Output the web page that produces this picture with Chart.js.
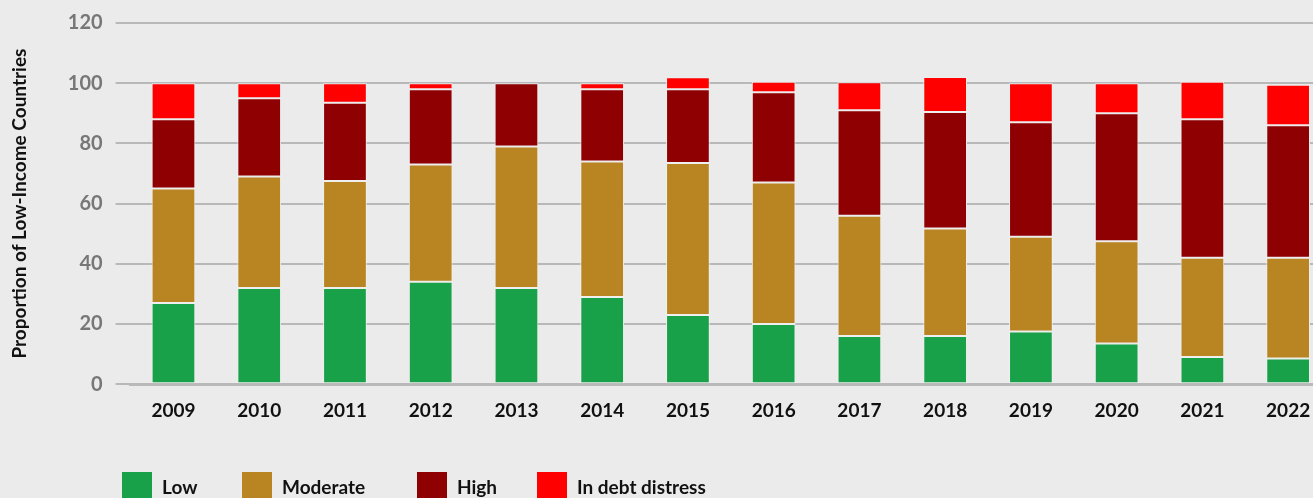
<!DOCTYPE html>
<html>
<head>
<meta charset="utf-8">
<script src="https://cdn.jsdelivr.net/npm/chart.js@4.4.1/dist/chart.umd.min.js"></script>
<style>
  html, body {
    margin: 0;
    padding: 0;
    background: #ebebeb;
    width: 1313px;
    height: 498px;
    overflow: hidden;
    font-family: Lato, 'Noto Sans', sans-serif;
  }
  #wrap { position: relative; width: 1313px; height: 498px; overflow: hidden; }
  #debtChart { position: absolute; left: 0; top: 0; }
  .legend-item {
    position: absolute;
    top: 472px;
    display: flex;
    align-items: flex-start;
    font-weight: bold;
    font-size: 19px;
    color: #111;
  }
  .legend-box { width: 30px; height: 30px; margin-right: 10px; }
  .legend-text { line-height: 30px; }
</style>
</head>
<body>
<div id="wrap">
  <canvas id="debtChart" width="1331" height="498"></canvas>
  <div id="legend"></div>
</div>
<script>
/**
 * Debt distress risk ratings of low-income countries, 2009-2022
 */

const YEARS = ['2009', '2010', '2011', '2012', '2013', '2014', '2015',
  '2016', '2017', '2018', '2019', '2020', '2021', '2022'];

const LOW = [27, 32, 32, 34, 32, 29, 23, 20, 16, 16, 17.5, 13.5, 9, 8.5];
const MODERATE = [38, 37, 35.5, 39, 47, 45, 50.5, 47, 40, 35.7, 31.5, 34, 33, 33.5];
const HIGH = [23, 26, 26, 25, 21, 24, 24.5, 30, 35, 38.7, 38, 42.5, 46, 44];
const DISTRESS = [12, 5, 6.5, 2, 0, 2, 4, 3.5, 9.3, 11.7, 13, 10, 12.5, 13.5];

const SERIES_LABELS = ['Low', 'Moderate', 'High', 'In debt distress'];
const SERIES_COLORS = ['#19a149', '#b98523', '#8f0003', '#ff0000'];
const LEGEND_X = [122, 242, 417, 537];

const FONT = 'Lato';

/**
 * Build the HTML legend under the chart
 */
function renderLegend() {
  const container = document.getElementById('legend');
  SERIES_LABELS.forEach((label, idx) => {
    const item = document.createElement('div');
    item.className = 'legend-item';
    item.style.left = LEGEND_X[idx] + 'px';
    item.innerHTML = `
      <div class="legend-box" style="background:${SERIES_COLORS[idx]}"></div>
      <div class="legend-text">${label}</div>
    `;
    container.appendChild(item);
  });
}

function renderChart() {
  const ctx = document.getElementById('debtChart').getContext('2d');
  const values = [LOW, MODERATE, HIGH, DISTRESS];

  const datasets = values.map((data, idx) => ({
    label: SERIES_LABELS[idx],
    data: data,
    backgroundColor: SERIES_COLORS[idx],
    borderColor: '#efefef',
    borderWidth: 1,
    borderSkipped: false,
    barPercentage: 0.51,
    categoryPercentage: 1,
  }));

  new Chart(ctx, {
    type: 'bar',
    data: { labels: YEARS, datasets },
    options: {
      responsive: false,
      animation: false,
      layout: { padding: { top: 19, right: 0, bottom: 61, left: 0 } },
      plugins: {
        legend: { display: false },
        tooltip: { enabled: false },
      },
      scales: {
        x: {
          stacked: true,
          grid: { display: false, drawTicks: false },
          border: { display: true, color: '#b9b9b9', width: 3 },
          ticks: {
            color: '#111',
            padding: 15,
            font: { family: FONT, size: 19, weight: 'bold' },
          },
        },
        y: {
          stacked: true,
          min: 0,
          max: 120,
          ticks: {
            stepSize: 20,
            color: '#777',
            padding: 13,
            font: { family: FONT, size: 20, weight: 'bold', lineHeight: 1 },
          },
          grid: { color: '#b8b8b8', lineWidth: 2, tickLength: 15 },
          border: { display: false },
          title: {
            display: true,
            text: 'Proportion of Low-Income Countries',
            color: '#111',
            padding: { top: 8, bottom: 24 },
            font: { family: FONT, size: 19, weight: 'bold' },
          },
        },
      },
    },
  });
}

renderChart();
renderLegend();
</script>
</body>
</html>
